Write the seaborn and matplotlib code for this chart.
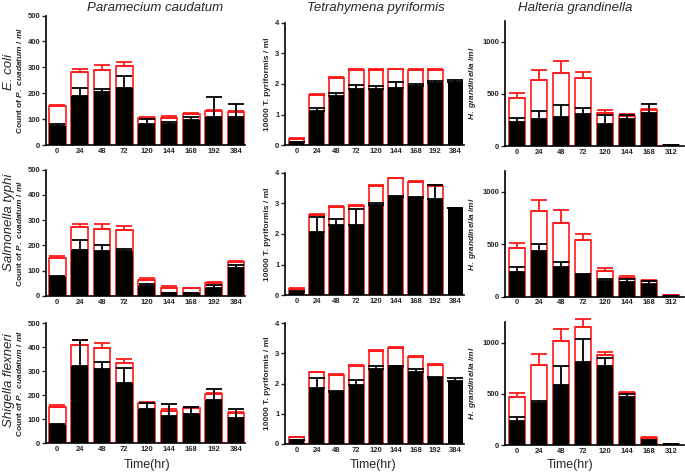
import numpy as np
import pandas as pd
import matplotlib

matplotlib.use("Agg")
import matplotlib.pyplot as plt
import seaborn as sns

# ===================== data =====================
times_pc = ['0', '24', '48', '72', '120', '144', '168', '192', '384']
times_tp = ['0', '24', '48', '72', '120', '144', '168', '192', '384']
times_hg = ['0', '24', '48', '72', '120', '144', '168', '312']

nan = np.nan

# E. coli
ecoli_pc_red = [150, 280, 290, 305, 103, 105, 120, 132, 128]
ecoli_pc_red_err = [5, 15, 20, 15, 5, 8, 2, 3, 2]
ecoli_pc_blk = [75, 190, 205, 220, 80, 83, 97, 108, 108]
ecoli_pc_blk_err = [5, 30, 13, 48, 20, 5, 10, 77, 50]

ecoli_tp_red = [0.22, 1.65, 2.2, 2.47, 2.47, 2.48, 2.47, 2.47, nan]
ecoli_tp_red_err = [0.02, 0.02, 0.02, 0.02, 0.02, 0.02, 0.02, 0.02, nan]
ecoli_tp_blk = [0.1, 1.12, 1.6, 1.83, 1.85, 1.87, 1.95, 2.03, 2.07]
ecoli_tp_blk_err = [0.02, 0.1, 0.12, 0.13, 0.1, 0.18, 0.05, 0.06, 0.06]

ecoli_hg_red = [465, 630, 700, 650, 315, 290, 345, 10]
ecoli_hg_red_err = [40, 100, 120, 60, 30, 15, 10, 2]
ecoli_hg_blk = [235, 255, 275, 310, 215, 255, 320, 5]
ecoli_hg_blk_err = [35, 80, 115, 55, 80, 40, 80, 0]

# Salmonella typhi
salm_pc_red = [152, 275, 265, 262, 65, 30, 33, 53, 133]
salm_pc_red_err = [5, 12, 20, 15, 5, 8, 0, 2, 5]
salm_pc_blk = [75, 183, 180, 177, 40, 10, 10, 30, 110]
salm_pc_blk_err = [5, 40, 23, 10, 7, 3, 2, 12, 13]

salm_tp_red = [0.22, 2.62, 2.88, 2.92, 3.58, 3.82, 3.7, 3.57, nan]
salm_tp_red_err = [0.02, 0.02, 0.02, 0.02, 0.02, 0.02, 0.02, 0.02, nan]
salm_tp_blk = [0.12, 2.08, 2.3, 2.3, 2.95, 3.2, 3.18, 3.15, 2.84]
salm_tp_blk_err = [0.02, 0.47, 0.2, 0.53, 0.05, 0.05, 0.04, 0.45, 0.02]

salm_hg_red = [465, 820, 700, 545, 250, 180, 150, 15]
salm_hg_red_err = [45, 100, 130, 55, 25, 15, 10, 0]
salm_hg_blk = [235, 440, 280, 205, 150, 140, 125, 10]
salm_hg_blk_err = [45, 65, 50, 15, 20, 25, 25, 0]

# Shigella flexneri
shig_pc_red = [152, 410, 395, 335, 165, 135, 147, 205, 126]
shig_pc_red_err = [5, 18, 20, 13, 5, 8, 1, 2, 2]
shig_pc_blk = [75, 320, 310, 250, 140, 112, 122, 180, 103]
shig_pc_blk_err = [5, 108, 28, 62, 25, 50, 26, 43, 39]

shig_tp_red = [0.22, 2.38, 2.3, 2.6, 3.08, 3.18, 2.88, 2.62, nan]
shig_tp_red_err = [0.02, 0.02, 0.02, 0.02, 0.02, 0.02, 0.02, 0.02, nan]
shig_tp_blk = [0.12, 1.85, 1.72, 1.97, 2.48, 2.58, 2.38, 2.2, 2.1]
shig_tp_blk_err = [0.02, 0.35, 0.02, 0.15, 0.12, 0.02, 0.12, 0.02, 0.1]

shig_hg_red = [465, 785, 1010, 1150, 880, 505, 70, 10]
shig_hg_red_err = [45, 100, 125, 80, 25, 15, 10, 2]
shig_hg_blk = [235, 410, 590, 810, 775, 470, 40, 10]
shig_hg_blk_err = [40, 20, 180, 220, 75, 30, 10, 0]

col_titles = ['Paramecium caudatum', 'Tetrahymena pyriformis', 'Halteria grandinella']
row_titles = ['E. coli', 'Salmonella typhi', 'Shigella flexneri']
pc_ylabel = r'Count of $\it{P.\ cuadatum\ /\ ml}$'
tp_ylabel = '10000 T. pyriformis / ml'
hg_ylabel = r'$\it{H.\ grandinella\ /ml}$'

# ===================== style =====================
sns.set_theme(style="ticks")
plt.rcParams['font.family'] = ['Liberation Sans', 'DejaVu Sans']
plt.rcParams['mathtext.fontset'] = 'custom'
plt.rcParams['mathtext.it'] = 'Liberation Sans:italic:bold'
plt.rcParams['mathtext.rm'] = 'Liberation Sans:bold'

W, H = 685, 472
fig = plt.figure(figsize=(W / 100, H / 100), dpi=100)


def px_axes(x0, x1, top, bottom):
    return fig.add_axes([x0 / W, 1 - bottom / H, (x1 - x0) / W, (bottom - top) / H])


# pixel boxes for each panel (left, right, top, bottom)
boxes = [
    [(46, 245, 15.5, 145), (285, 464, 22.7, 145.3), (505, 684, 21, 146)],
    [(46, 245, 169.7, 296), (285, 464, 172.7, 295.3), (505, 684, 171, 296.7)],
    [(46, 245, 323, 443), (285, 464, 323.3, 444), (505, 684, 322, 445)],
]

panels = [
    [(times_pc, ecoli_pc_red, ecoli_pc_red_err, ecoli_pc_blk, ecoli_pc_blk_err),
     (times_tp, ecoli_tp_red, ecoli_tp_red_err, ecoli_tp_blk, ecoli_tp_blk_err),
     (times_hg, ecoli_hg_red, ecoli_hg_red_err, ecoli_hg_blk, ecoli_hg_blk_err)],
    [(times_pc, salm_pc_red, salm_pc_red_err, salm_pc_blk, salm_pc_blk_err),
     (times_tp, salm_tp_red, salm_tp_red_err, salm_tp_blk, salm_tp_blk_err),
     (times_hg, salm_hg_red, salm_hg_red_err, salm_hg_blk, salm_hg_blk_err)],
    [(times_pc, shig_pc_red, shig_pc_red_err, shig_pc_blk, shig_pc_blk_err),
     (times_tp, shig_tp_red, shig_tp_red_err, shig_tp_blk, shig_tp_blk_err),
     (times_hg, shig_hg_red, shig_hg_red_err, shig_hg_blk, shig_hg_blk_err)],
]

ylims = [(0, 500), (0, 4), (0, 1200)]
yticks = [[0, 100, 200, 300, 400, 500], [0, 1, 2, 3, 4], [0, 500, 1000]]
xlims = [(-0.5, 8.4), (-0.6, 8.45), (-0.55, 7.6)]
ylabels = [pc_ylabel, tp_ylabel, hg_ylabel]

for r in range(3):
    for c in range(3):
        times, red, red_err, blk, blk_err = panels[r][c]
        ax = px_axes(*boxes[r][c])
        df = pd.DataFrame({"time": times, "red": red, "blk": blk})
        pos = np.arange(len(times))

        sns.barplot(data=df, x="time", y="red", order=times, color="white",
                    edgecolor="#ff1a1a", linewidth=1.2, saturation=1, width=0.75,
                    errorbar=None, ax=ax)
        ax.errorbar(pos, red, yerr=[np.zeros(len(red)), red_err], fmt='none',
                    ecolor="#ff1a1a", elinewidth=1.3, capsize=5.5, capthick=1.3,
                    clip_on=False)
        sns.barplot(data=df, x="time", y="blk", order=times, color="black",
                    linewidth=0, saturation=1, width=0.75, errorbar=None, ax=ax)
        ax.errorbar(pos, blk, yerr=[np.zeros(len(blk)), blk_err], fmt='none',
                    ecolor="black", elinewidth=1.3, capsize=5.5, capthick=1.3,
                    clip_on=False)

        ax.set_xlim(*xlims[c])
        ax.set_ylim(*ylims[c])
        ax.set_yticks(yticks[c])
        ax.set_xlabel("")
        ax.set_ylabel(ylabels[c], fontsize=6, fontweight="bold", labelpad=3)
        for s in ["top", "right"]:
            ax.spines[s].set_visible(False)
        for s in ["left", "bottom"]:
            ax.spines[s].set_linewidth(1.2)
            ax.spines[s].set_color("black")
        ax.tick_params(axis="y", length=3, width=1, pad=1, labelsize=5.5)
        ax.tick_params(axis="x", length=0, width=1, pad=2, labelsize=5.5)
        for lab in ax.get_xticklabels() + ax.get_yticklabels():
            lab.set_fontweight("bold")

# column titles
for c, (title, xc) in enumerate(zip(col_titles, [155, 376, 575])):
    fig.text(xc / W, 1 - 8 / H, title, ha="center", va="center",
             fontsize=9.5, fontstyle="italic")

# row titles
for title, yc in zip(row_titles, [72, 222, 380]):
    fig.text(9 / W, 1 - yc / H, title, ha="center", va="center",
             rotation=90, fontsize=9.5, fontstyle="italic")

# x axis label under bottom row
for xc in [147, 373, 570]:
    fig.text(xc / W, 1 - 465 / H, "Time(hr)", ha="center", va="center", fontsize=9)

fig.savefig("out.png", dpi=100)
